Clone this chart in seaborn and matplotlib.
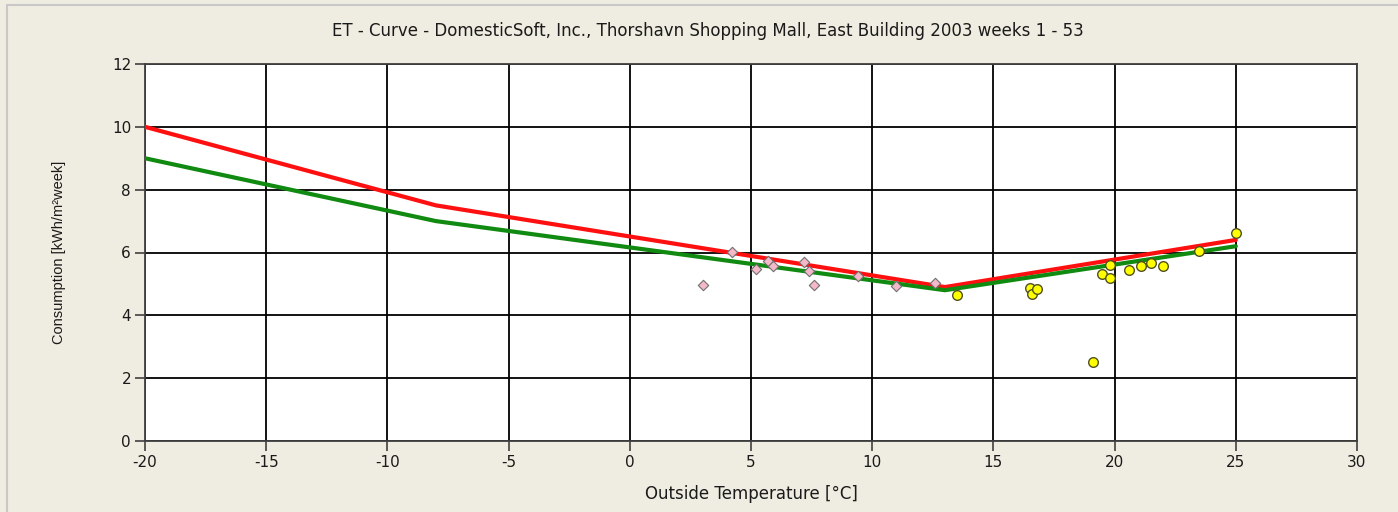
import matplotlib
matplotlib.use("Agg")
import matplotlib.pyplot as plt
import seaborn as sns
from matplotlib.patches import Rectangle

# reference curves (break points)
red_x = [-20, -8, 13, 25]
red_y = [10.0, 7.5, 4.9, 6.4]
green_x = [-20, -8, 13, 25]
green_y = [9.0, 7.0, 4.8, 6.2]

# measured weeks, heating period (diamonds)
heat_temp = [3.0, 4.2, 5.2, 5.7, 5.9, 7.2, 7.4, 7.6, 9.4, 11.0, 12.6]
heat_cons = [4.97, 6.02, 5.48, 5.73, 5.57, 5.70, 5.41, 4.97, 5.25, 4.94, 5.03]

# measured weeks, summer (circles)
summer_temp = [13.5, 16.5, 16.6, 16.8, 19.1, 19.5, 19.8, 19.8, 20.6, 21.1, 21.5, 22.0, 23.5, 25.0]
summer_cons = [4.65, 4.87, 4.68, 4.84, 2.52, 5.32, 5.60, 5.19, 5.45, 5.57, 5.67, 5.57, 6.05, 6.62]

sns.set_theme(style="white")
plt.rcParams["font.family"] = ["DejaVu Sans"]
plt.rcParams["axes.unicode_minus"] = False

bg = "#efede1"
txt = "#1a1a1a"
fig = plt.figure(figsize=(13.98, 5.12), dpi=100, facecolor=bg)
fig.patches.append(Rectangle((7 / 1398, -0.1), 1.2, 1.1 - 5 / 512, transform=fig.transFigure,
                             fill=False, edgecolor="#c8c8c8", linewidth=1.5))
ax = fig.add_axes([145 / 1398, 71 / 512, 1212 / 1398, 377 / 512])
ax.set_facecolor("white")

sns.lineplot(x=red_x, y=red_y, sort=False, color="#ff1010", linewidth=3, ax=ax, zorder=3)
sns.lineplot(x=green_x, y=green_y, sort=False, color="#108a10", linewidth=3, ax=ax, zorder=3)

sns.scatterplot(x=heat_temp, y=heat_cons, marker="D", s=28, color="#f4b8c8",
                edgecolor="#707070", linewidth=0.8, ax=ax, zorder=4)
sns.scatterplot(x=summer_temp, y=summer_cons, marker="o", s=48, color="#ffff00",
                edgecolor="#505020", linewidth=1.0, ax=ax, zorder=4)

ax.set_xlim(-20, 30)
ax.set_ylim(0, 12)
ax.set_xticks(range(-20, 31, 5))
ax.set_yticks(range(0, 13, 2))
ax.grid(True, color="black", linewidth=1.3)
ax.set_axisbelow(True)
for sp in ax.spines.values():
    sp.set_color("#404040")
    sp.set_linewidth(1.3)
ax.tick_params(axis="both", direction="out", length=7, width=1.2, color="#404040",
               labelsize=11, labelcolor=txt, left=True, bottom=True, pad=3)

ax.set_xlabel("Outside Temperature [°C]", fontsize=12, color=txt, labelpad=11)
ax.set_ylabel("Consumption [kWh/m²week]", fontsize=10.5, color=txt, labelpad=33,
              family="Liberation Sans")
fig.text(708 / 1398, 1 - 31 / 512,
         "ET - Curve - DomesticSoft, Inc., Thorshavn Shopping Mall, East Building 2003 weeks 1 - 53",
         ha="center", va="center", fontsize=12, color=txt)

fig.savefig("out.png", dpi=100, facecolor=bg)
